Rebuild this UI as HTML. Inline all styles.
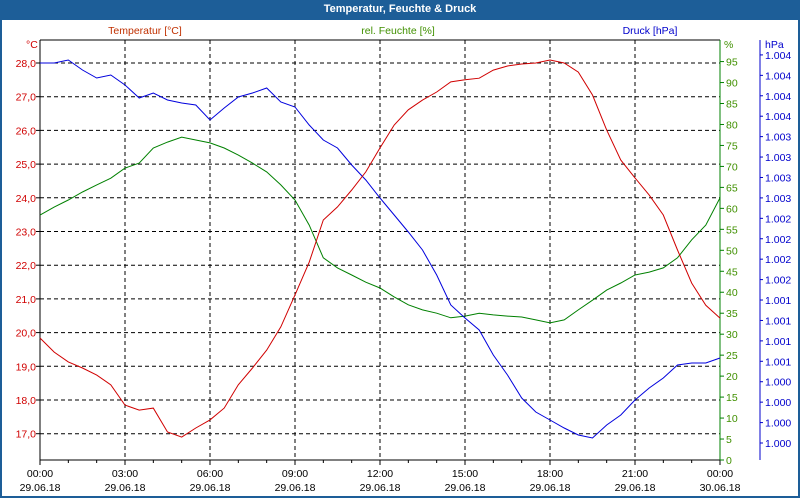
<!DOCTYPE html>
<html><head><meta charset="utf-8"><style>
body{margin:0;width:800px;height:500px;overflow:hidden;background:#fff;font-family:"Liberation Sans",sans-serif}
#wrap{position:absolute;left:0;top:0;width:796px;height:496px;border:2px solid #1d5e98;border-top:none}
#title{position:absolute;left:0;top:0;width:800px;height:20px;background:#1d5e98;color:#fff;font-weight:bold;font-size:11px;text-align:center;line-height:19px}
</style></head><body>
<div id="wrap"></div>
<div id="title">Temperatur, Feuchte &amp; Druck</div>
<svg id="chart" width="800" height="500" style="position:absolute;left:0;top:0"></svg>
<script>
const hours=[0,0.5,1,1.5,2,2.5,3,3.5,4,4.5,5,5.5,6,6.5,7,7.5,8,8.5,9,9.5,10,10.5,11,11.5,12,12.5,13,13.5,14,14.5,15,15.5,16,16.5,17,17.5,18,18.5,19,19.5,20,20.5,21,21.5,22,22.5,23,23.5,24];
const temperature=[19.84,19.42,19.13,18.95,18.74,18.45,17.85,17.70,17.76,17.05,16.90,17.17,17.41,17.76,18.45,18.95,19.48,20.17,21.12,22.09,23.34,23.73,24.23,24.77,25.48,26.16,26.61,26.90,27.14,27.44,27.50,27.55,27.79,27.91,27.97,28.00,28.09,28.00,27.73,27.05,26.01,25.12,24.59,24.08,23.49,22.45,21.47,20.81,20.43];
const humidity=[58.4,60.3,62.0,63.9,65.6,67.2,69.6,70.8,74.4,75.8,77.0,76.3,75.6,74.4,72.7,70.8,68.7,65.6,62.0,56.0,48.2,45.8,44.1,42.4,41.0,38.9,37.0,35.8,35.0,33.9,34.3,35.0,34.6,34.3,34.1,33.4,32.7,33.4,35.8,38.1,40.5,42.2,44.1,44.8,45.8,48.2,52.5,56.0,62.5];
const pressure=[1004.651,1004.651,1004.688,1004.565,1004.468,1004.504,1004.382,1004.223,1004.284,1004.198,1004.162,1004.137,1003.953,1004.100,1004.235,1004.284,1004.345,1004.174,1004.113,1003.892,1003.709,1003.611,1003.403,1003.219,1002.999,1002.791,1002.583,1002.362,1002.056,1001.689,1001.530,1001.383,1001.077,1000.832,1000.551,1000.379,1000.282,1000.184,1000.098,1000.061,1000.220,1000.343,1000.526,1000.673,1000.796,1000.955,1000.979,1000.979,1001.040];
const tempTicks=[17,18,19,20,21,22,23,24,25,26,27,28];
const humTicks=[0,5,10,15,20,25,30,35,40,45,50,55,60,65,70,75,80,85,90,95];
const presTicks=[1000,1000.25,1000.5,1000.75,1001,1001.25,1001.5,1001.75,1002,1002.25,1002.5,1002.75,1003,1003.25,1003.5,1003.75,1004,1004.25,1004.5,1004.75];
const presLabels=["1.000","1.000","1.000","1.000","1.001","1.001","1.001","1.001","1.002","1.002","1.002","1.002","1.003","1.003","1.003","1.003","1.004","1.004","1.004","1.004"];
const timeTicks=[0,3,6,9,12,15,18,21,24];
const timeLabels=["00:00","03:00","06:00","09:00","12:00","15:00","18:00","21:00","00:00"];
const dateLabels=["29.06.18","29.06.18","29.06.18","29.06.18","29.06.18","29.06.18","29.06.18","29.06.18","30.06.18"];

const L=40,R=720,T=40,B=460;
const xS=h=>L+h*(R-L)/24;
const yT=t=>63+(28-t)*33.7;
const yH=h=>460-h*4.194;
const yP=p=>443-(p-1000)*81.7;
const svg=document.getElementById('chart');
const NS='http://www.w3.org/2000/svg';
function mk(tag,attrs,parent){const e=document.createElementNS(NS,tag);for(const k in attrs)e.setAttribute(k,attrs[k]);(parent||svg).appendChild(e);return e;}
function txt(s,x,y,col,anchor,name){const e=mk('text',{x:x,y:y,fill:col,'font-size':10.5,'text-anchor':anchor||'start','font-family':'Liberation Sans, sans-serif'});e.textContent=s;

return e;}
tempTicks.forEach(t=>{const l=mk('line',{x1:L,x2:R,y1:yT(t),y2:yT(t),stroke:'#000','stroke-dasharray':'4,3','stroke-width':1});


txt(t.toFixed(1).replace('.',','),L-4,yT(t)+4,'#d00000','end','temp-tick-label');
mk('line',{x1:L-4,x2:L,y1:yT(t),y2:yT(t),stroke:'#000'});});
timeTicks.forEach((h,i)=>{if(i>0&&i<8){const l=mk('line',{x1:xS(h),x2:xS(h),y1:T,y2:B,stroke:'#000','stroke-dasharray':'4,3'});

}
mk('line',{x1:xS(h),x2:xS(h),y1:B,y2:B+5,stroke:'#000'});
txt(timeLabels[i],xS(h),477,'#000','middle','time-tick-label');
txt(dateLabels[i],xS(h),491,'#000','middle','date-tick-label');});
for(let h=1;h<24;h++){if(h%3)mk('line',{x1:xS(h),x2:xS(h),y1:B,y2:B+3,stroke:'#000'});}
mk('line',{x1:L,x2:R,y1:T,y2:T,stroke:'#000'});
mk('line',{x1:L,x2:L,y1:T,y2:B,stroke:'#000'});
mk('line',{x1:L,x2:R,y1:B,y2:B,stroke:'#000'});
mk('line',{x1:R,x2:R,y1:T,y2:B,stroke:'#008000'});
mk('line',{x1:760,x2:760,y1:40,y2:460,stroke:'#0000cc'});
humTicks.forEach(h=>{mk('line',{x1:R,x2:R+4,y1:yH(h),y2:yH(h),stroke:'#008000'});txt(String(h),R+6,yH(h)+4,'#409000','start','humidity-tick-label');});
presTicks.forEach((p,i)=>{mk('line',{x1:760,x2:763,y1:yP(p),y2:yP(p),stroke:'#0000cc'});txt(presLabels[i],765,yP(p)+4,'#0000cc','start','pressure-tick-label');});
txt('°C',26,48,'#d00000','start','temp-unit');
txt('%',724,48,'#409000','start','humidity-unit');
txt('hPa',765,48,'#0000cc','start','pressure-unit');
txt('Temperatur [°C]',145,34,'#c03000','middle','temp-series-label');
txt('rel. Feuchte [%]',398,34,'#409000','middle','humidity-series-label');
txt('Druck [hPa]',650,34,'#0000cc','middle','pressure-series-label');
function line(vals,ys,col,name){const d=vals.map((v,i)=>(i?'L':'M')+xS(hours[i]).toFixed(1)+','+ys(v).toFixed(1)).join(' ');
const p=mk('path',{d:d,fill:'none',stroke:col,'stroke-width':1});

}
line(humidity,yH,'#008000','humidity-line');
line(pressure,yP,'#0000dd','pressure-line');
line(temperature,yT,'#d00000','temperature-line');
</script>
</body></html>
